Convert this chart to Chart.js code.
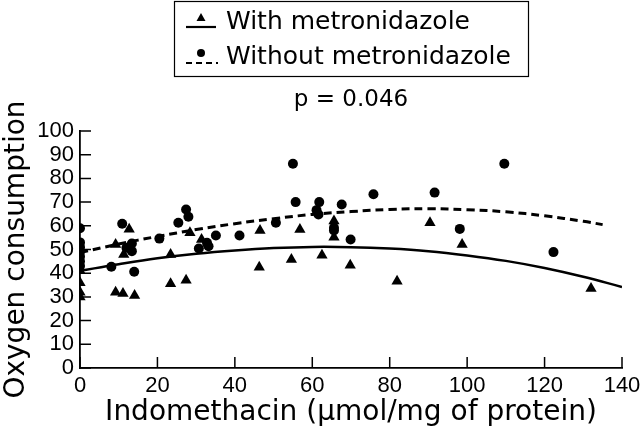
<!DOCTYPE html>
<html>
<head>
<meta charset="utf-8">
<script src="https://cdn.jsdelivr.net/npm/chart.js@4/dist/chart.umd.min.js"></script>
<style>
  html, body { margin: 0; padding: 0; background: #fff; }
  canvas { display: block; }
</style>
</head>
<body>
<canvas id="chart" width="640" height="431"></canvas>
<script>
// With metronidazole (triangles)
const withX = [0, 0, 0, 0, 9.2, 12.7, 11.3, 9.2, 11.1, 14.1, 23.4, 23.4, 27.4, 28.4, 31.4,
    46.5, 46.3, 54.6, 56.8, 62.5, 65.6, 65.6, 69.8, 81.9, 90.4, 98.7, 132];
const withY = [41, 36, 32, 30, 52.1, 58.5, 47.9, 32, 31.4, 30.6, 47.9, 35.5, 37, 57.1, 54.2,
    58, 42.5, 45.8, 58.4, 47.6, 62, 55.2, 43.4, 36.6, 61.3, 52.1, 33.5];

// Without metronidazole (circles)
const withoutX = [0, 0, 0, 0, 0, 0, 0, 8.1, 10.9, 13.4, 12, 13.4, 14, 20.5, 25.4, 27.4, 28,
    30.7, 32.8, 33.2, 35.1, 41.2, 50.6, 55, 55.7, 61.8, 61.1, 61.6, 67.6, 65.6, 65.6, 69.9,
    75.8, 91.6, 98.1, 109.6, 122.3];
const withoutY = [59, 53, 51, 49, 47, 45, 43, 42.7, 60.9, 52.5, 50.7, 49.3, 40.6, 54.6, 61.3, 66.9, 63.8,
    50.4, 52.8, 51.4, 55.9, 55.9, 61.3, 86.2, 70, 70, 66.6, 64.8, 69, 59.2, 58, 54.2,
    73.3, 74, 58.7, 86.2, 48.9];

// Fitted curves
const solidFitX = [0, 10, 20, 30, 40, 50, 60, 70, 80, 90, 100, 110, 120, 130, 140];
const solidFitY = [41.0, 43.8, 46.3, 48.2, 49.6, 50.6, 51.1, 51.0, 50.4, 49.3, 47.5, 45.2, 42.2, 38.5, 34.2];
const dashedFitX = [0, 10, 20, 30, 40, 50, 60, 70, 80, 90, 100, 110, 120, 130, 135];
const dashedFitY = [48.7, 52.3, 55.5, 58.4, 60.9, 63.0, 64.8, 66.0, 66.9, 67.2, 66.8, 65.9, 64.2, 61.9, 60.5];

const seriesLabels = ['With metronidazole', 'Without metronidazole'];
const pValueText = 'p = 0.046';
const xTitle = 'Indomethacin (\u03bcmol/mg of protein)';
const yTitle = 'Oxygen consumption';

const FONT = '"DejaVu Sans", Verdana, sans-serif';
const TICK_FONT = '"Liberation Sans", Arial, sans-serif';
const zip = (xs, ys) => xs.map((x, i) => ({ x: x, y: ys[i] }));

// inward tick marks, legend box and p-value
const decorPlugin = {
    id: 'decor',
    afterDraw(chart) {
        const ctx = chart.ctx;
        const area = chart.chartArea;
        const xs = chart.scales.x;
        const ys = chart.scales.y;
        ctx.save();
        ctx.strokeStyle = '#000';
        ctx.lineWidth = 1.5;
        ctx.beginPath();
        xs.ticks.forEach(t => {
            const px = xs.getPixelForValue(t.value);
            ctx.moveTo(px, area.bottom);
            ctx.lineTo(px, area.bottom - 11);
        });
        ys.ticks.forEach(t => {
            const py = ys.getPixelForValue(t.value);
            ctx.moveTo(area.left, py);
            ctx.lineTo(area.left + 11, py);
        });
        ctx.stroke();

        // legend box
        ctx.lineWidth = 1.2;
        ctx.strokeRect(174.5, 1.5, 354, 75);
        ctx.lineWidth = 2.2;
        ctx.beginPath();
        ctx.moveTo(186, 27);
        ctx.lineTo(216, 27);
        ctx.stroke();
        ctx.setLineDash([6, 4]);
        ctx.beginPath();
        ctx.moveTo(186, 63);
        ctx.lineTo(218, 63);
        ctx.stroke();
        ctx.setLineDash([]);
        ctx.fillStyle = '#000';
        ctx.beginPath();
        ctx.moveTo(201, 13);
        ctx.lineTo(205.5, 21);
        ctx.lineTo(196.5, 21);
        ctx.closePath();
        ctx.fill();
        ctx.beginPath();
        ctx.arc(201, 53, 4, 0, Math.PI * 2);
        ctx.fill();

        ctx.font = '25px ' + FONT;
        ctx.textAlign = 'left';
        ctx.textBaseline = 'middle';
        ctx.fillText(seriesLabels[0], 226, 22);
        ctx.fillText(seriesLabels[1], 226, 57);

        ctx.font = '23px ' + FONT;
        ctx.textAlign = 'center';
        ctx.fillText(pValueText, (area.left + area.right) / 2, 100);
        ctx.restore();
    }
};

new Chart(document.getElementById('chart'), {
    type: 'scatter',
    data: {
        datasets: [
            {
                label: seriesLabels[0],
                data: zip(withX, withY),
                pointStyle: 'triangle',
                pointRadius: 6.5,
                pointBorderWidth: 0,
                backgroundColor: '#000',
                borderColor: '#000'
            },
            {
                label: seriesLabels[1],
                data: zip(withoutX, withoutY),
                pointStyle: 'circle',
                pointRadius: 5,
                pointBorderWidth: 0,
                backgroundColor: '#000',
                borderColor: '#000'
            },
            {
                type: 'line',
                data: zip(solidFitX, solidFitY),
                borderColor: '#000',
                borderWidth: 2.5,
                pointRadius: 0,
                tension: 0.4,
                fill: false
            },
            {
                type: 'line',
                data: zip(dashedFitX, dashedFitY),
                borderColor: '#000',
                borderWidth: 3,
                borderDash: [8, 5],
                pointRadius: 0,
                tension: 0.4,
                fill: false
            }
        ]
    },
    options: {
        responsive: false,
        animation: false,
        layout: { padding: { top: 131, right: 18, left: 0, bottom: 0 } },
        plugins: {
            legend: { display: false },
            title: { display: false },
            tooltip: { enabled: false }
        },
        scales: {
            x: {
                type: 'linear',
                min: 0,
                max: 140,
                afterFit(scale) {
                    scale.height = 63;
                    scale.paddingLeft = 0;
                    scale.paddingRight = 0;
                },
                grid: { display: false, drawTicks: false },
                border: { display: true, color: '#000', width: 1.8 },
                ticks: {
                    stepSize: 20,
                    autoSkip: false,
                    color: '#000',
                    padding: 5,
                    maxRotation: 0,
                    font: { family: TICK_FONT, size: 22 }
                },
                title: {
                    display: true,
                    text: xTitle,
                    color: '#000',
                    padding: { top: 0, bottom: 1 },
                    font: { family: FONT, size: 28 }
                }
            },
            y: {
                type: 'linear',
                min: 0,
                max: 100,
                afterFit(scale) {
                    scale.width = 80;
                    scale.paddingTop = 0;
                    scale.paddingBottom = 0;
                },
                grid: { display: false, drawTicks: false },
                border: { display: true, color: '#000', width: 1.8 },
                ticks: {
                    stepSize: 10,
                    autoSkip: false,
                    color: '#000',
                    padding: 6,
                    font: { family: TICK_FONT, size: 22 }
                },
                title: {
                    display: true,
                    text: yTitle,
                    color: '#000',
                    padding: { top: 0, bottom: 0 },
                    font: { family: FONT, size: 28 }
                }
            }
        }
    },
    plugins: [decorPlugin]
});
</script>
</body>
</html>
